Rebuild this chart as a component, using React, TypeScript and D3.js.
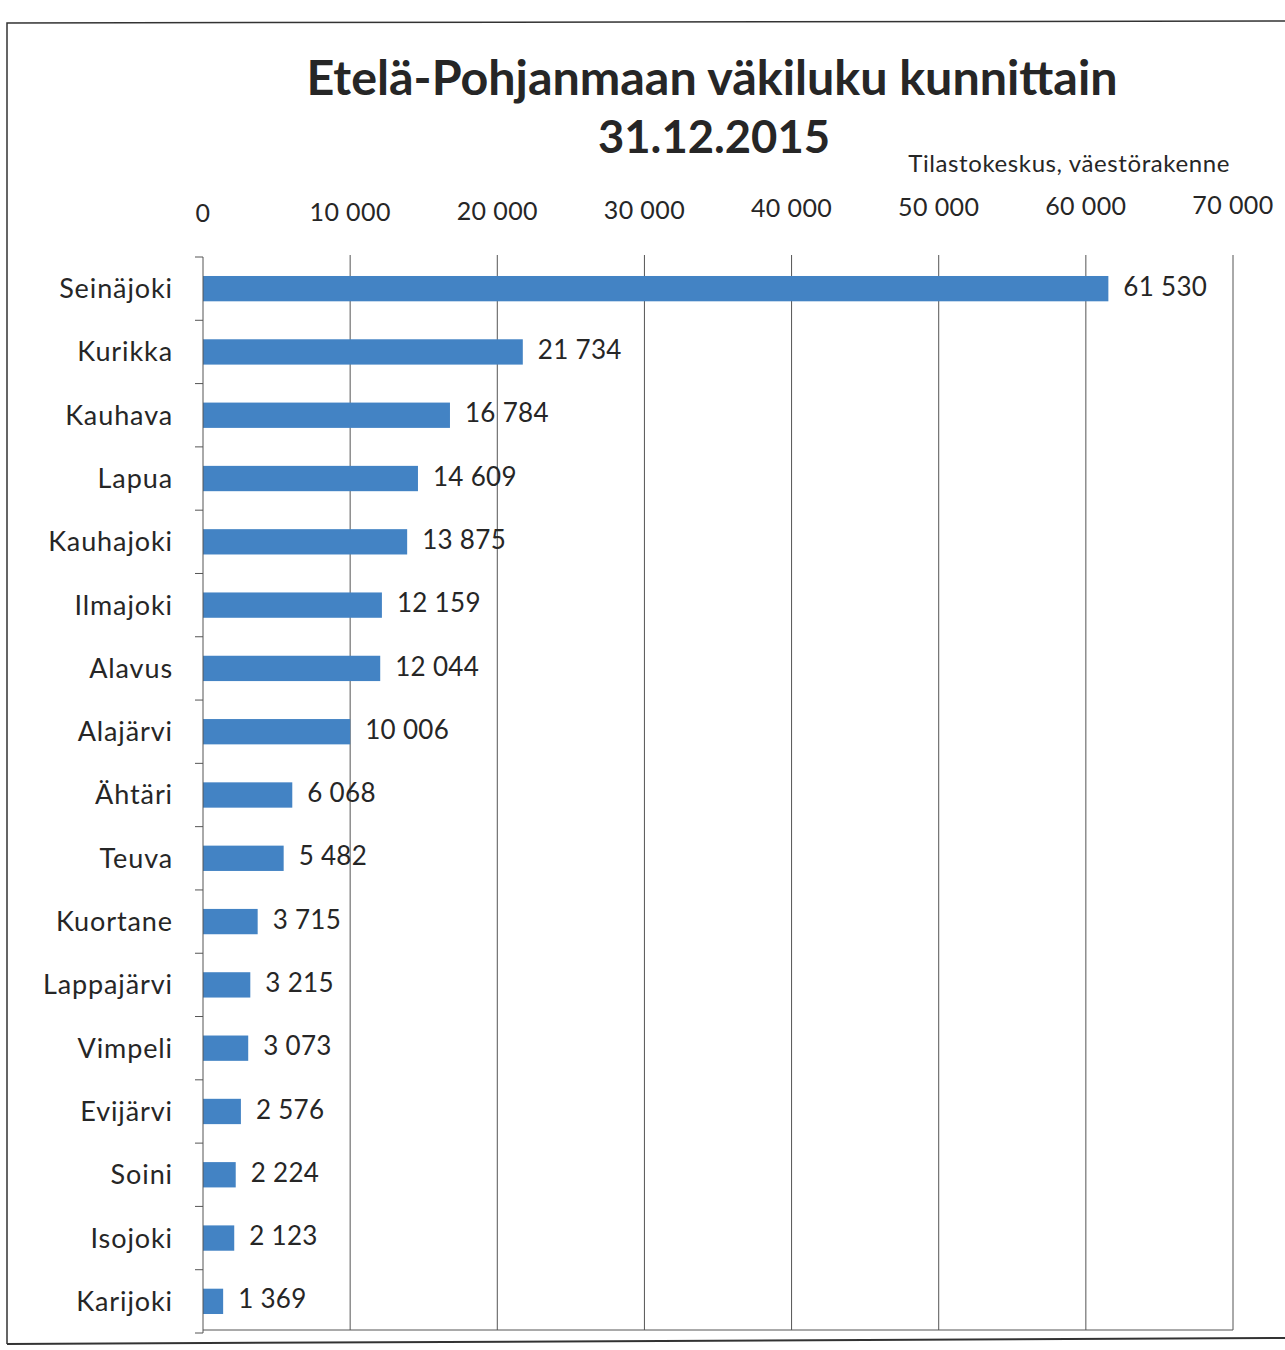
import React from "react";
import * as d3 from "d3";

const municipalities = [
  "Seinäjoki", "Kurikka", "Kauhava", "Lapua", "Kauhajoki", "Ilmajoki", "Alavus",
  "Alajärvi", "Ähtäri", "Teuva", "Kuortane", "Lappajärvi", "Vimpeli", "Evijärvi",
  "Soini", "Isojoki", "Karijoki",
];
const population = [
  61530, 21734, 16784, 14609, 13875, 12159, 12044, 10006, 6068, 5482, 3715, 3215,
  3073, 2576, 2224, 2123, 1369,
];
const xTicks = [0, 10000, 20000, 30000, 40000, 50000, 60000, 70000];
const titleLines = ["Etelä-Pohjanmaan väkiluku kunnittain", "31.12.2015"];
const sourceText = "Tilastokeskus, väestörakenne";

const W = 1285;
const H = 1350;
const FONT = "Lato, 'Open Sans', sans-serif";
const INK = "#262626";
const BAR = "#4383c4";

const fmt = (v: number) => d3.format(",")(v).replace(/,/g, "\u00a0");

export default function App() {
  const left = 203;
  const right = 1233;
  const top = 257;
  const bottom = 1333;
  const x = d3.scaleLinear().domain([0, 70000]).range([left, right]);
  const y = d3
    .scaleBand<string>()
    .domain(municipalities)
    .range([top, bottom])
    .paddingInner(0.6)
    .paddingOuter(0.3);
  const step = y.step();
  const boundaries = d3.range(municipalities.length + 1).map((i) => top + i * step);

  return (
    <svg
      width={W}
      height={H}
      style={{ position: "absolute", left: 0, top: 0, background: "#fff" }}
      fontFamily={FONT}
    >
      <rect x={0} y={0} width={W} height={H} fill="#fff" />
      {/* outer frame */}
      <path d={`M7,1344 L7,23 L${W},21`} fill="none" stroke="#333" strokeWidth={1.5} />
      <path d={`M7,1344 L${W},1338`} fill="none" stroke="#333" strokeWidth={2} />

      {/* title */}
      <text
        x={712}
        y={95}
        textAnchor="middle"
        fontSize={47}
        fontWeight={700}
        fill={INK}
        textLength={811}
        lengthAdjust="spacingAndGlyphs"
      >
        {titleLines[0]}
      </text>
      <text
        x={714}
        y={153}
        textAnchor="middle"
        fontSize={46}
        fontWeight={700}
        fill={INK}
        textLength={232}
        lengthAdjust="spacingAndGlyphs"
      >
        {titleLines[1]}
      </text>
      <text x={1230} y={172} textAnchor="end" fontSize={24} letterSpacing={0.6} fill={INK}>
        {sourceText}
      </text>

      {/* gridlines */}
      {xTicks.slice(1).map((t) => (
        <line key={t} x1={x(t)} x2={x(t)} y1={top - 2} y2={bottom - 3} stroke="#555" strokeWidth={1} />
      ))}
      {/* top tick labels */}
      {xTicks.map((t) => (
        <text
          key={t}
          x={x(t)}
          y={222 - (t / 70000) * 8}
          textAnchor="middle"
          fontSize={25}
          letterSpacing={0.4}
          fill={INK}
        >
          {fmt(t)}
        </text>
      ))}

      {/* bars */}
      {municipalities.map((m, i) => (
        <rect
          key={m}
          x={x(0)}
          y={y(m)!}
          width={x(population[i]) - x(0)}
          height={y.bandwidth()}
          fill={BAR}
        />
      ))}

      {/* left axis */}
      <line x1={left} x2={left} y1={top} y2={bottom} stroke="#555" strokeWidth={1} />
      {boundaries.map((b, i) => (
        <line key={i} x1={left - 8} x2={left} y1={b} y2={b} stroke="#555" strokeWidth={1} />
      ))}
      {/* bottom axis */}
      <line x1={left} x2={right} y1={bottom - 3} y2={bottom - 3} stroke="#555" strokeWidth={1} />

      {/* category labels */}
      {municipalities.map((m) => (
        <text
          key={m}
          x={173}
          y={y(m)! + y.bandwidth() / 2}
          dy="0.35em"
          textAnchor="end"
          fontSize={27}
          letterSpacing={0.9}
          fill={INK}
        >
          {m}
        </text>
      ))}
      {/* value labels */}
      {municipalities.map((m, i) => (
        <text
          key={m}
          x={x(population[i]) + 15}
          y={y(m)! + y.bandwidth() / 2 - 2}
          dy="0.35em"
          fontSize={26}
          letterSpacing={0.3}
          fill={INK}
        >
          {fmt(population[i])}
        </text>
      ))}
    </svg>
  );
}
